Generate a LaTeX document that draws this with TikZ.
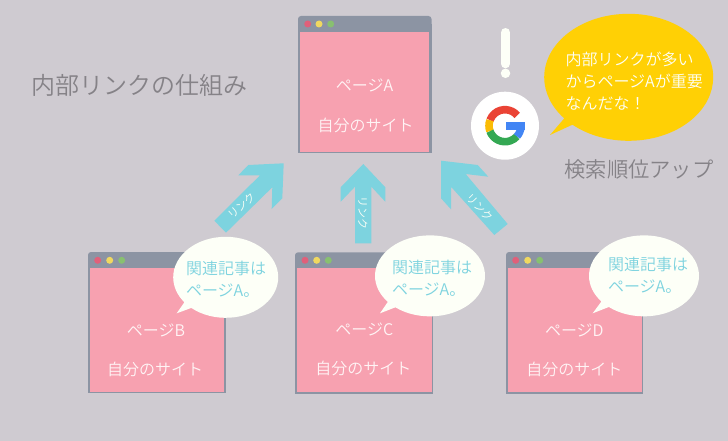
\documentclass[tikz,border=0pt]{standalone}
\usepackage{fontspec}
\usepackage{tikz}
\usetikzlibrary{shapes.geometric,shapes.callouts}
\setmainfont{Noto Sans CJK JP DemiLight}

\definecolor{bgcol}{HTML}{CFCBD1}
\definecolor{framecol}{HTML}{8C94A3}
\definecolor{pagecol}{HTML}{F7A1B0}
\definecolor{pagetext}{HTML}{FFF4F5}
\definecolor{linkcol}{HTML}{7DD3DF}
\definecolor{greytext}{HTML}{858287}
\definecolor{yellowcol}{HTML}{FFD005}
\definecolor{bubblecol}{HTML}{FDFFF7}
\definecolor{dotred}{HTML}{E0607A}
\definecolor{dotyellow}{HTML}{F0D860}
\definecolor{dotgreen}{HTML}{88C070}
\definecolor{gred}{HTML}{EA4335}
\definecolor{gyellow}{HTML}{FBBC05}
\definecolor{ggreen}{HTML}{34A853}
\definecolor{gblue}{HTML}{4285F4}

\begin{document}
\begin{tikzpicture}[x=1pt,y=-1pt,
  frame/.style={rectangle,fill=framecol,inner sep=0pt,outer sep=0pt},
  bar/.style={frame,rounded corners=3pt,minimum height=16pt},
  sheet/.style={rectangle,fill=pagecol,inner sep=0pt,outer sep=0pt},
  dot/.style={circle,inner sep=0pt,minimum size=7pt},
  pagelabel/.style={text=pagetext,font=\fontsize{16}{16}\selectfont},
  linklabel/.style={text=bubblecol,font=\fontsize{11}{11}\selectfont},
  greylabel/.style={text=greytext},
  bubble/.style={ellipse callout,callout pointer arc=11,fill=bubblecol,inner sep=0pt,outer sep=0pt,minimum height=81pt},
  bubbletext/.style={text=linkcol,align=left,font=\fontsize{16}{22}\selectfont},
  gstroke/.style={line width=7.6pt}]
\useasboundingbox (0,0) rectangle (728,441);
\fill[bgcol] (0,0) rectangle (728,441);

% title
\node[greylabel,font=\fontsize{24}{24}\selectfont,name=title] at (139,85) {内部リンクの仕組み};

% link arrows
\fill[linkcol] (214.3,220.7) -- (226,232.7) -- (272.3,187.3) -- (271.7,209) -- (282.3,198.3) -- (283.7,163.3) -- (248.3,165) -- (238.3,175.3) -- (260,175.3) -- cycle;
\fill[linkcol] (355,243.3) -- (371.3,243.3) -- (371.3,186.7) -- (385.3,201.7) -- (385.3,187.3) -- (363.3,164) -- (340.7,187.3) -- (340.7,201.7) -- (355,186.7) -- cycle;
\fill[linkcol] (441,160.7) -- (477.7,165) -- (488.3,176.7) -- (465.7,174) -- (507.7,224) -- (494.3,235) -- (451,186.7) -- (451,209.3) -- (441,198.3) -- cycle;
\node[linklabel,rotate=42,name=link_b] at (241.7,205.7) {リンク};
\node[linklabel,rotate=-90,name=link_c] at (362.7,212.7) {リンク};
\node[linklabel,rotate=-45,name=link_d] at (480,207.3) {リンク};

% page A
\node[bar,minimum width=133.5pt,name=bar_a] at (364.75,24) {};
\node[frame,minimum width=133.5pt,minimum height=129.3pt,name=frame_a] at (364.75,88.65) {};
\node[sheet,minimum width=129pt,minimum height=120.3pt,name=sheet_a] at (364.5,91.85) {};
\node[dot,fill=dotred,name=red_a] at (307.7,24) {};
\node[dot,fill=dotyellow,name=yellow_a] at (319,24) {};
\node[dot,fill=dotgreen,name=green_a] at (330.7,24) {};
\node[pagelabel,name=page_a] at (364.5,85) {ページA};
\node[pagelabel,name=site_a] at (365.5,125) {自分のサイト};

% page B
\node[bar,minimum width=137.7pt,name=bar_b] at (156.85,260) {};
\node[frame,minimum width=137.7pt,minimum height=133pt,name=frame_b] at (156.85,326.5) {};
\node[sheet,minimum width=134.3pt,minimum height=123.4pt,name=sheet_b] at (157.15,330) {};
\node[dot,fill=dotred,name=red_b] at (97.7,260.3) {};
\node[dot,fill=dotyellow,name=yellow_b] at (109.7,260.3) {};
\node[dot,fill=dotgreen,name=green_b] at (121.7,260.3) {};
\node[pagelabel,name=page_b] at (156,330) {ページB};
\node[pagelabel,name=site_b] at (155,369.3) {自分のサイト};

% page C
\node[bar,minimum width=137.7pt,name=bar_c] at (363.85,260.3) {};
\node[frame,minimum width=137.7pt,minimum height=133.7pt,name=frame_c] at (363.85,327.15) {};
\node[sheet,minimum width=134.4pt,minimum height=123.4pt,name=sheet_c] at (364.5,330) {};
\node[dot,fill=dotred,name=red_c] at (305,260.3) {};
\node[dot,fill=dotyellow,name=yellow_c] at (316.7,260.3) {};
\node[dot,fill=dotgreen,name=green_c] at (328.3,260.3) {};
\node[pagelabel,name=page_c] at (364.3,329.3) {ページC};
\node[pagelabel,name=site_c] at (363.3,368.3) {自分のサイト};

% page D
\node[bar,minimum width=137pt,name=bar_d] at (574.5,260) {};
\node[frame,minimum width=137pt,minimum height=134pt,name=frame_d] at (574.5,327) {};
\node[sheet,minimum width=134.6pt,minimum height=123.4pt,name=sheet_d] at (575,330) {};
\node[dot,fill=dotred,name=red_d] at (515.7,260.3) {};
\node[dot,fill=dotyellow,name=yellow_d] at (527.7,260.3) {};
\node[dot,fill=dotgreen,name=green_d] at (539.7,260.3) {};
\node[pagelabel,name=page_d] at (574.3,330) {ページD};
\node[pagelabel,name=site_d] at (574.3,369) {自分のサイト};

% bubbles
\node[bubble,minimum width=105pt,callout absolute pointer={(176.7,313.3)},name=bubble_b] at (225.7,277.3) {};
\node[bubble,minimum width=110pt,callout absolute pointer={(380,313.3)},name=bubble_c] at (430,275.85) {};
\node[bubble,minimum width=110pt,callout absolute pointer={(592.7,313.3)},name=bubble_d] at (644,275.85) {};
\node[bubbletext,name=note_b] at (226,279) {関連記事は\\ページA。};
\node[bubbletext,name=note_c] at (432,278) {関連記事は\\ページA。};
\node[bubbletext,name=note_d] at (648,275) {関連記事は\\ページA。};

% google
\node[circle,fill=white,minimum size=68pt,inner sep=0pt,name=google] at (505,125.7) {};
\draw[gstroke,color=gred] (google.center) ++(-40:16) arc[start angle=-40,end angle=-160,radius=16];
\draw[gstroke,color=gyellow] (google.center) ++(-160:16) arc[start angle=-160,end angle=-200,radius=16];
\draw[gstroke,color=ggreen] (google.center) ++(-200:16) arc[start angle=-200,end angle=-318,radius=16];
\draw[gstroke,color=gblue] (google.center) ++(-318:16) arc[start angle=-318,end angle=-358,radius=16];
\fill[gblue] (505.7,122.3) rectangle (525,130);

% exclamation
\draw[line width=9pt,line cap=round,bubblecol] (505.5,32.5) -- (505.5,63.8);
\node[circle,fill=bubblecol,minimum size=9.5pt,inner sep=0pt,name=excl] at (505.5,73.3) {};

% google says
\node[ellipse callout,callout pointer arc=8,fill=yellowcol,inner sep=0pt,outer sep=0pt,minimum width=169pt,minimum height=127pt,callout absolute pointer={(550,135)},name=bubble_g] at (628.7,77.3) {};
\node[text=bubblecol,align=left,anchor=west,font=\fontsize{16}{22}\selectfont,name=note_g] at (562,81.5) {内部リンクが多い\\からページAが重要\\なんだな！};
\node[greylabel,font=\fontsize{21.3}{21.3}\selectfont,name=rank_up] at (639,169) {検索順位アップ};
\end{tikzpicture}
\end{document}
